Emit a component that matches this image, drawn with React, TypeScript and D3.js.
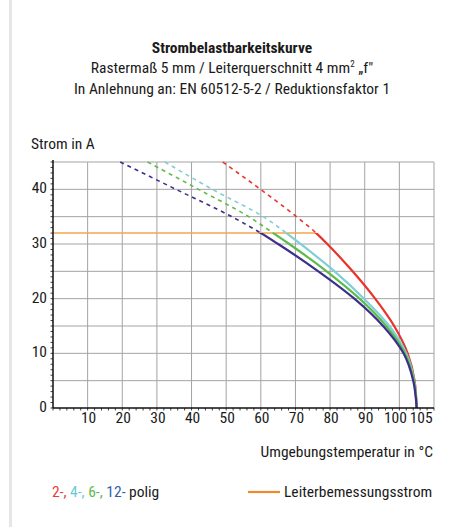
import React from 'react';
import * as d3 from 'd3';

const current = [45, 40, 35, 32, 30, 25, 20, 15, 10, 5, 0];

const series = [
  { name: '2-', color: '#e8332b', legendColor: '#ec3b34', temp: [49, 59.9, 70.3, 76, 79.2, 86.5, 93, 98.5, 102.4, 104.4, 105] },
  { name: '4-', color: '#7fcfd6', legendColor: '#6cc9d4', temp: [32.3, 46, 60.7, 67.4, 71.5, 81.3, 89.8, 97.1, 102, 104.3, 105] },
  { name: '6-', color: '#5dbb4b', legendColor: '#5dbb4b', temp: [27.3, 42, 56.5, 63.6, 68.2, 79, 88.5, 96.2, 101.6, 104.2, 105] },
  { name: '12-', color: '#3b2f8c', legendColor: '#2f5ea8', temp: [19.4, 35.5, 51.6, 60, 65, 76.6, 87, 95.3, 101.2, 104, 105] },
];

const ratedCurrent = 32;
const ratedEnd = 76;

const xTicks = [10, 20, 30, 40, 50, 60, 70, 80, 90, 100, 105];
const xGrid = [10, 20, 30, 40, 50, 60, 70, 80, 90, 100, 110];
const yTicks = [0, 10, 20, 30, 40];
const yGrid = [5, 10, 15, 20, 25, 30, 35, 40, 45];

const font = "'Liberation Sans Narrow', 'Roboto Condensed', Roboto, sans-serif";
const fs = 15.5;

export default function App() {
  const width = 449;
  const height = 527;
  const x = d3.scaleLinear().domain([0, 110]).range([53, 434]);
  const y = d3.scaleLinear().domain([0, 45]).range([408, 162]);

  const line = d3
    .line<[number, number]>()
    .x((d) => x(d[0]))
    .y((d) => y(d[1]))
    .curve(d3.curveMonotoneY);

  const xMinor = d3.range(0, 111, 2);
  const yMinor = d3.range(0, 46, 1);

  return (
    <svg
      width={width}
      height={height}
      style={{ position: 'absolute', left: 0, top: 0, background: '#fff' }}
      fontFamily={font}
    >
      <defs>
        <clipPath id="above">
          <rect x={0} y={0} width={width} height={y(ratedCurrent)} />
        </clipPath>
        <clipPath id="below">
          <rect x={0} y={y(ratedCurrent)} width={width} height={height} />
        </clipPath>
      </defs>

      <rect x={9} y={0} width={3} height={height} fill="#e6e6e6" />

      <text x={232} y={52.5} textAnchor="middle" fontSize={fs} fontWeight="bold" fill="#1a1a1a">
        Strombelastbarkeitskurve
      </text>
      <text x={232} y={72.5} textAnchor="middle" fontSize={fs} fill="#1a1a1a">
        Rastermaß 5 mm / Leiterquerschnitt 4 mm
        <tspan dy={-5.5} fontSize={9}>2</tspan>
        <tspan dy={5.5}> „f"</tspan>
      </text>
      <text x={232} y={93.5} textAnchor="middle" fontSize={fs} fill="#1a1a1a">
        In Anlehnung an: EN 60512-5-2 / Reduktionsfaktor 1
      </text>

      <text x={31} y={148.5} fontSize={fs} fill="#1a1a1a">Strom in A</text>

      {/* grid */}
      {xGrid.map((v) => (
        <line key={'gx' + v} x1={x(v)} x2={x(v)} y1={y(45)} y2={y(0)} stroke="#a3a3a3" strokeWidth={1} />
      ))}
      {yGrid.map((v) => (
        <line key={'gy' + v} x1={x(0)} x2={x(110)} y1={y(v)} y2={y(v)} stroke="#a3a3a3" strokeWidth={1} />
      ))}

      {/* rated current */}
      <line x1={x(0)} x2={x(ratedEnd)} y1={y(ratedCurrent)} y2={y(ratedCurrent)} stroke="#f5a54e" strokeWidth={1.6} />

      {/* curves: dashed above rated current, solid below */}
      {series.map((s) => {
        const d = line(current.map((a, i) => [s.temp[i], a]) as [number, number][]) as string;
        return (
          <g key={s.name}>
            <path d={d} fill="none" stroke={s.color} strokeWidth={1.6} strokeDasharray="4,4" clipPath="url(#above)" />
            <path d={d} fill="none" stroke={s.color} strokeWidth={2.2} clipPath="url(#below)" />
          </g>
        );
      })}

      {/* axes */}
      <line x1={x(0)} x2={x(0)} y1={y(45) - 2} y2={y(0)} stroke="#111" strokeWidth={1.5} />
      <line x1={x(0)} x2={x(110)} y1={y(0)} y2={y(0)} stroke="#111" strokeWidth={1.5} />
      {yMinor.map((v) => (
        <line key={'my' + v} x1={x(0) - 2.5} x2={x(0)} y1={y(v)} y2={y(v)} stroke="#111" strokeWidth={0.8} />
      ))}
      {xMinor.map((v) => (
        <line key={'mx' + v} x1={x(v)} x2={x(v)} y1={y(0)} y2={y(0) + 2.5} stroke="#111" strokeWidth={0.8} />
      ))}

      {yTicks.map((v) => (
        <text key={'ty' + v} x={47} y={y(v) + 4} textAnchor="end" fontSize={fs} fill="#1a1a1a">
          {v}
        </text>
      ))}
      {xTicks.map((v) => (
        <text
          key={'tx' + v}
          x={x(v) + (v === 100 ? -4 : v === 105 ? 4.5 : 1)}
          y={423}
          textAnchor="middle"
          fontSize={fs}
          fill="#1a1a1a"
        >
          {v}
        </text>
      ))}

      <text x={433} y={456.5} textAnchor="end" fontSize={fs} fill="#1a1a1a">
        Umgebungstemperatur in °C
      </text>

      {/* legend */}
      <text x={52} y={497} fontSize={fs} fill="#1a1a1a">
        {series.map((s, i) => (
          <tspan key={s.name} fill={s.legendColor}>
            {s.name}
            {i < series.length - 1 ? ', ' : ''}
          </tspan>
        ))}
        <tspan> polig</tspan>
      </text>
      <line x1={248} x2={280} y1={492} y2={492} stroke="#f08a30" strokeWidth={2.2} />
      <text x={284} y={497} fontSize={fs} fill="#1a1a1a">Leiterbemessungsstrom</text>
    </svg>
  );
}
